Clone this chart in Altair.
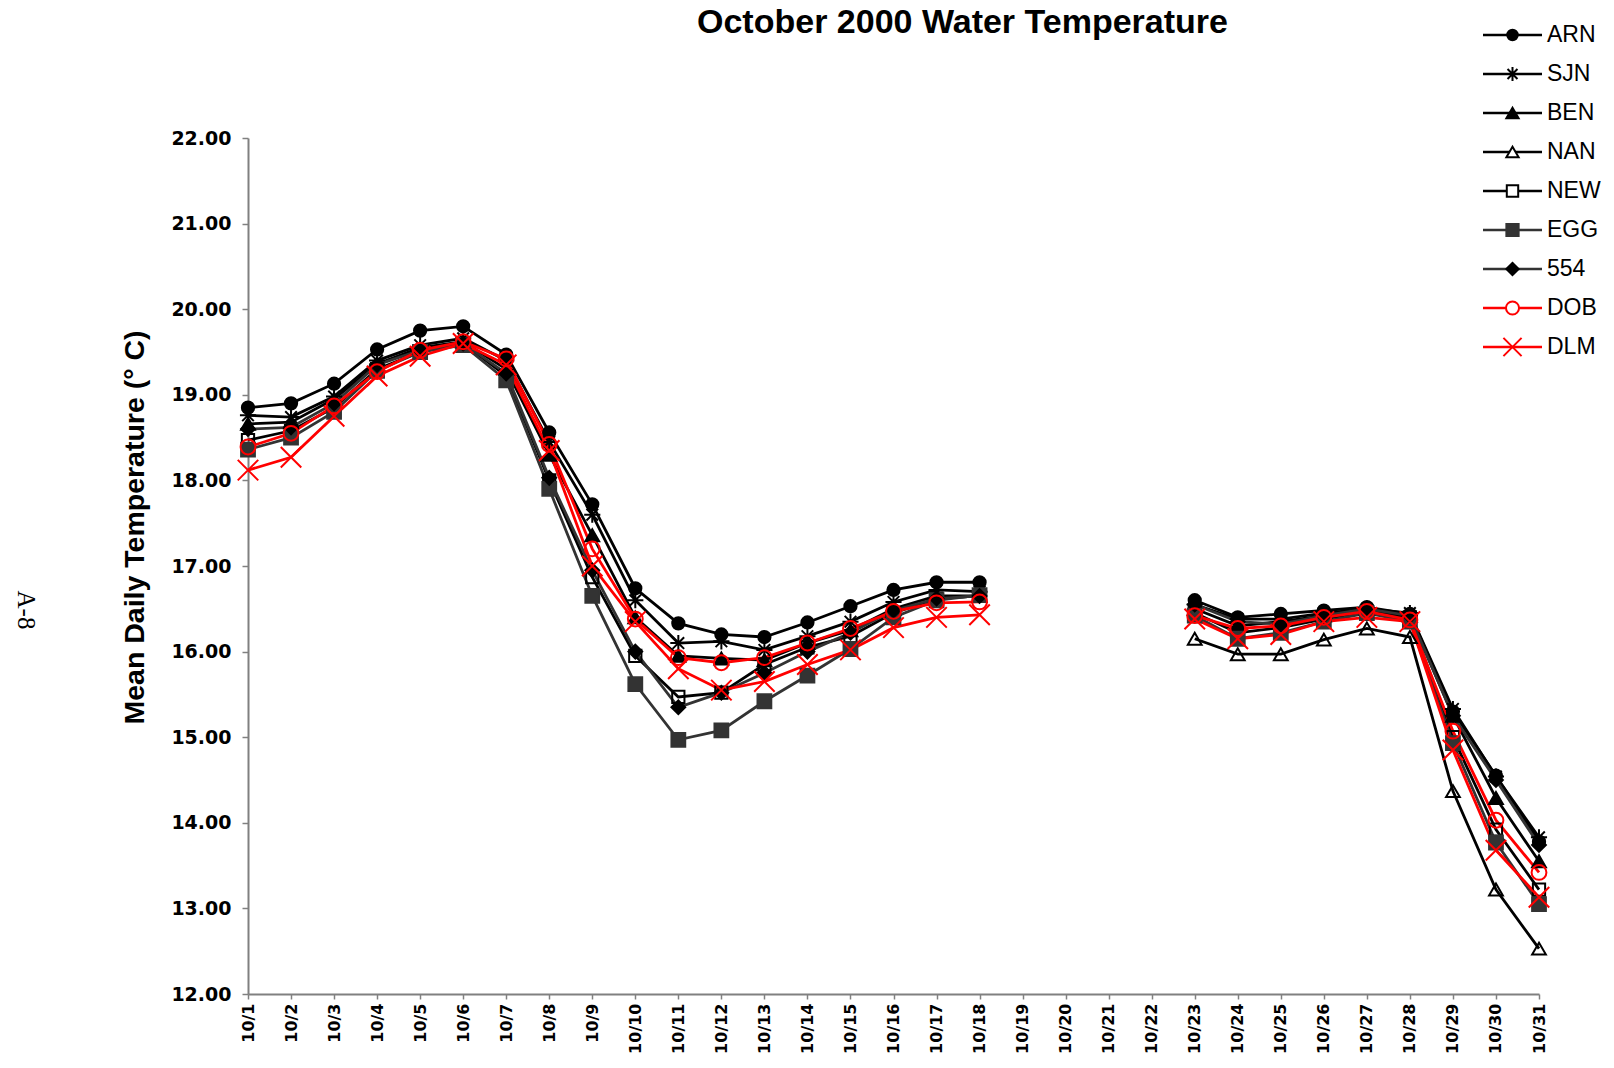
import altair as alt
import pandas as pd

# ---------------- data ----------------
days = [1, 2, 3, 4, 5, 6, 7, 8, 9, 10, 11, 12, 13, 14, 15, 16, 17, 18,
        23, 24, 25, 26, 27, 28, 29, 30, 31]

ARN = [18.85, 18.90, 19.13, 19.53, 19.75, 19.80, 19.47, 18.56, 17.72, 16.74, 16.33, 16.20, 16.17, 16.34, 16.53, 16.72, 16.81, 16.81,
       16.60, 16.40, 16.44, 16.48, 16.52, 16.44, 15.30, 14.55, 13.78]
SJN = [18.76, 18.74, 18.98, 19.40, 19.58, 19.66, 19.40, 18.45, 17.60, 16.60, 16.10, 16.12, 16.02, 16.18, 16.35, 16.58, 16.72, 16.70,
       16.55, 16.38, 16.38, 16.45, 16.50, 16.45, 15.33, 14.54, 13.83]
BEN = [18.66, 18.68, 18.95, 19.36, 19.55, 19.62, 19.30, 18.30, 17.36, 16.40, 15.95, 15.92, 15.90, 16.10, 16.25, 16.50, 16.65, 16.65,
       16.50, 16.30, 16.35, 16.42, 16.50, 16.42, 15.25, 14.29, 13.55]
NAN = [None] * 18 + [16.15, 15.97, 15.97, 16.14, 16.27, 16.17, 14.37, 13.22, 12.53]
NEW = [18.47, 18.58, 18.85, 19.30, 19.50, 19.60, 19.22, 18.00, 16.87, 15.95, 15.47, 15.52, 15.85, 16.05, 16.18, 16.45, 16.62, 16.65,
       16.45, 16.22, 16.28, 16.38, 16.47, 16.40, 15.00, 13.92, 13.22]
EGG = [18.36, 18.50, 18.80, 19.28, 19.50, 19.58, 19.17, 17.90, 16.65, 15.62, 14.97, 15.08, 15.42, 15.72, 16.03, 16.40, 16.60, 16.66,
       16.42, 16.15, 16.22, 16.35, 16.45, 16.35, 14.93, 13.77, 13.05]
S554 = [18.60, 18.62, 18.90, 19.35, 19.52, 19.60, 19.25, 18.03, 16.95, 16.00, 15.35, 15.52, 15.75, 16.00, 16.22, 16.48, 16.62, 16.65,
        16.55, 16.35, 16.32, 16.42, 16.50, 16.42, 15.25, 14.50, 13.74]
DOB = [18.39, 18.55, 18.87, 19.27, 19.52, 19.62, 19.42, 18.42, 17.20, 16.38, 15.93, 15.87, 15.93, 16.10, 16.27, 16.47, 16.57, 16.58,
       16.42, 16.27, 16.30, 16.40, 16.47, 16.37, 15.07, 14.03, 13.42]
DLM = [18.12, 18.27, 18.75, 19.22, 19.45, 19.60, 19.35, 18.35, 17.00, 16.35, 15.80, 15.55, 15.65, 15.85, 16.02, 16.28, 16.40, 16.43,
       16.38, 16.15, 16.20, 16.35, 16.40, 16.35, 14.85, 13.68, 13.13]

series_names = ["ARN", "SJN", "BEN", "NAN", "NEW", "EGG", "554", "DOB", "DLM"]
series_values = [ARN, SJN, BEN, NAN, NEW, EGG, S554, DOB, DLM]

TITLE = "October 2000 Water Temperature"
Y_TITLE = "Mean Daily Temperature (° C)"
PAGE_LABEL = "A-8"

# ---------------- styles ----------------
STAR = "M-1,0H1M0,-1V1M-0.72,-0.72L0.72,0.72M-0.72,0.72L0.72,-0.72"
XMARK = "M-1,-1L1,1M-1,1L1,-1"
line_col = {"ARN": "#000000", "SJN": "#000000", "BEN": "#000000", "NAN": "#000000", "NEW": "#000000",
            "EGG": "#333333", "554": "#333333", "DOB": "#ff0000", "DLM": "#ff0000"}
mk_stroke = {"ARN": "#000000", "SJN": "#000000", "BEN": "#000000", "NAN": "#000000", "NEW": "#000000",
             "EGG": "#333333", "554": "#000000", "DOB": "#ff0000", "DLM": "#ff0000"}
mk_fill = {"ARN": "#000000", "SJN": "transparent", "BEN": "#000000", "NAN": "transparent", "NEW": "transparent",
           "EGG": "#333333", "554": "#000000", "DOB": "transparent", "DLM": "transparent"}
mk_shape = {"ARN": "circle", "SJN": STAR, "BEN": "triangle-up", "NAN": "triangle-up", "NEW": "square",
            "EGG": "square", "554": "diamond", "DOB": "circle", "DLM": XMARK}
mk_size = {"ARN": 150, "SJN": 260, "BEN": 190, "NAN": 190, "NEW": 150,
           "EGG": 190, "554": 190, "DOB": 220, "DLM": 420}
lg_size = {"ARN": 110, "SJN": 190, "BEN": 150, "NAN": 150, "NEW": 130,
           "EGG": 150, "554": 150, "DOB": 170, "DLM": 330}
lg_fill = dict(mk_fill)
lg_fill.update({"NAN": "#ffffff", "NEW": "#ffffff", "DOB": "#ffffff"})

rows = []
for name, vals in zip(series_names, series_values):
    for d, v in zip(days, vals):
        if v is None:
            continue
        rows.append({"series": name, "day": d, "temp": v,
                     "seg": "a" if d <= 18 else "b",
                     "lcol": line_col[name], "mstroke": mk_stroke[name],
                     "mfill": mk_fill[name], "mshape": mk_shape[name], "msize": mk_size[name]})
df = pd.DataFrame(rows)

leg = pd.DataFrame({"series": series_names,
                    "lcol": [line_col[s] for s in series_names],
                    "mstroke": [mk_stroke[s] for s in series_names],
                    "mfill": [lg_fill[s] for s in series_names],
                    "mshape": [mk_shape[s] for s in series_names],
                    "msize": [lg_size[s] for s in series_names]})

AXC = "#808080"
xenc = alt.X("day:Q", scale=alt.Scale(domain=[1, 31], nice=False, zero=False),
             axis=alt.Axis(values=list(range(1, 32)), labelExpr="'10/' + datum.value",
                           labelAngle=270, labelFont="DejaVu Sans", labelFontWeight="bold",
                           labelFontSize=16, labelColor="#000000", labelPadding=4,
                           tickSize=5, tickColor=AXC, tickWidth=1.5, domainColor=AXC,
                           domainWidth=2, grid=False, title=None, labelOverlap=False))
yenc = alt.Y("temp:Q", scale=alt.Scale(domain=[12, 22], nice=False, zero=False),
             axis=alt.Axis(values=list(range(12, 23)), format=".2f",
                           labelFont="DejaVu Sans", labelFontWeight="bold", labelFontSize=19,
                           labelColor="#000000", labelPadding=11, tickSize=6, tickColor=AXC,
                           tickWidth=1.5, domainColor=AXC, domainWidth=2, grid=False,
                           title=Y_TITLE, titleFont="Liberation Sans",
                           titleFontSize=28.5, titleFontWeight="bold", titleColor="#000000",
                           titleX=-114, titleY=389, titleAngle=270, titleAlign="center",
                           titleBaseline="middle"))

lines = alt.Chart(df).mark_line(strokeWidth=2.8).encode(
    x=xenc, y=yenc,
    stroke=alt.Stroke("lcol:N", scale=None),
    detail=["series:N", "seg:N"],
    order=alt.Order("day:Q"),
)
points = alt.Chart(df).mark_point(strokeWidth=2, opacity=1).encode(
    x="day:Q", y="temp:Q",
    shape=alt.Shape("mshape:N", scale=None),
    stroke=alt.Stroke("mstroke:N", scale=None),
    fill=alt.Fill("mfill:N", scale=None),
    size=alt.Size("msize:Q", scale=None),
)
plot = alt.layer(lines, points)

ly = alt.Y("series:N", sort=series_names,
           scale=alt.Scale(type="point", domain=series_names, range=[-103, 209], padding=0),
           axis=None)
leg_rule = alt.Chart(leg).mark_rule(strokeWidth=2.5).encode(
    x=alt.value(1235), x2=alt.value(1294), y=ly,
    stroke=alt.Stroke("lcol:N", scale=None))
leg_pt = alt.Chart(leg).mark_point(strokeWidth=2, opacity=1).encode(
    x=alt.value(1264.5), y=ly,
    shape=alt.Shape("mshape:N", scale=None),
    stroke=alt.Stroke("mstroke:N", scale=None),
    fill=alt.Fill("mfill:N", scale=None),
    size=alt.Size("msize:Q", scale=None))
leg_txt = alt.Chart(leg).mark_text(align="left", baseline="middle", font="Liberation Sans",
                                   fontSize=23, color="#000000").encode(
    x=alt.value(1299), y=ly, text="series:N")
page_lbl = alt.Chart(pd.DataFrame({"t": [PAGE_LABEL]})).mark_text(
    angle=90, font="Liberation Serif", fontSize=25, color="#000000",
    align="center", baseline="middle").encode(
    x=alt.value(-222), y=alt.value(472), text="t:N")
title_lbl = alt.Chart(pd.DataFrame({"t": [TITLE]})).mark_text(
    font="Liberation Sans", fontSize=34, fontWeight="bold", color="#000000",
    align="center", baseline="middle").encode(
    x=alt.value(714.5), y=alt.value(-115), text="t:N")
legend_layer = alt.layer(leg_rule, leg_pt, leg_txt, page_lbl, title_lbl)

chart = alt.layer(plot, legend_layer).resolve_scale(y="independent").properties(
    width=1291, height=856,
    autosize=alt.AutoSizeParams(type="none"),
    padding={"left": 240, "top": 130, "right": 66, "bottom": 60},
    background="#ffffff",
).configure_view(stroke=None)

chart.save("out.html", embed_options={"renderer": "svg", "actions": False})
